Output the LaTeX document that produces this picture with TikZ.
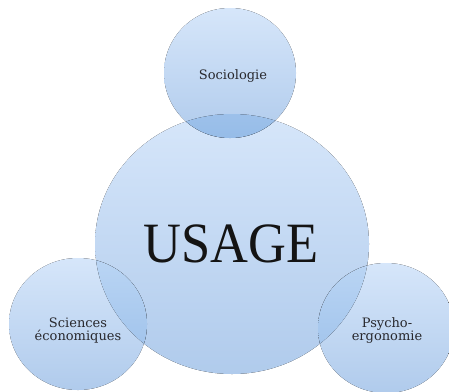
\documentclass[tikz,border=0pt]{standalone}
\usepackage{fontspec}
\setmainfont{Liberation Serif}
\newfontfamily\labfont{DejaVu Serif}
\definecolor{bubtop}{RGB}{214,230,250}
\definecolor{bubbot}{RGB}{176,203,236}
\definecolor{ovtop}{RGB}{186,213,244}
\definecolor{ovbot}{RGB}{150,188,232}
\definecolor{labgray}{RGB}{40,40,45}
\begin{document}
\begin{tikzpicture}[x=1pt,y=-1pt,
  bubble/.style={top color=bubtop,bottom color=bubbot,draw=none},
  overlapfill/.style={top color=ovtop,bottom color=ovbot,draw=none},
  lab/.style={font=\labfont\fontsize{13}{13}\selectfont,text=labgray,align=center,inner sep=0pt},
  big/.style={font=\fontsize{57}{60}\selectfont,text=black!92,inner sep=0pt,xscale=0.92}]
\useasboundingbox (0,0) rectangle (449,391);
\fill[white] (0,0) rectangle (449,391);
\fill[bubble] (232,244) ellipse [x radius=137, y radius=130];
\fill[bubble] (230,73) ellipse [x radius=66, y radius=65];
\fill[bubble] (78,324) ellipse [x radius=69, y radius=66];
\fill[bubble] (386,328) ellipse [x radius=68, y radius=65];
\begin{scope}
  \clip (232,244) ellipse [x radius=137, y radius=130];
  \fill[overlapfill] (230,73) ellipse [x radius=66, y radius=65];
  \fill[overlapfill] (78,324) ellipse [x radius=69, y radius=66];
  \fill[overlapfill] (386,328) ellipse [x radius=68, y radius=65];
\end{scope}
\node[big] (usage) at (231,244) {USAGE};
\node[lab,anchor=base] (socio) at (233,79) {Sociologie};
\node[lab] (eco) at (78,331) {Sciences\\économiques};
\node[lab] (psy) at (387,330) {Psycho-\\ergonomie};
\end{tikzpicture}
\end{document}
